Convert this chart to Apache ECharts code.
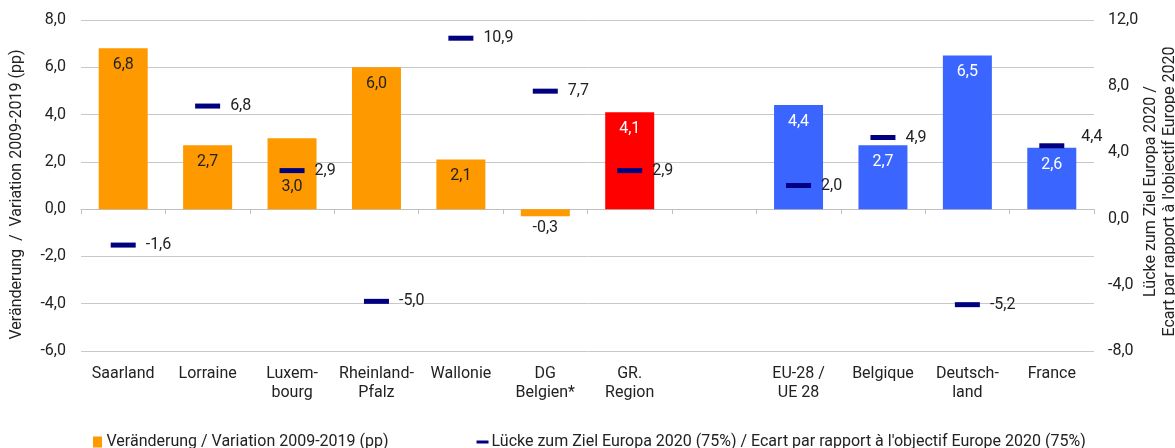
<!DOCTYPE html>
<html>
<head>
<meta charset="utf-8">
<script src="https://cdn.jsdelivr.net/npm/echarts@6/dist/echarts.min.js"></script>
<style>
  html, body { margin: 0; padding: 0; background: #fff; }
  #chartContainer { width: 1175px; height: 448px; }
</style>
</head>
<body>
<div id="chartContainer"></div>
<script>
var CATEGORIES = ["Saarland", "Lorraine", "Luxem-\nbourg", "Rheinland-\nPfalz", "Wallonie", "DG\nBelgien*",
  "GR.\nRegion", "", "EU-28 /\nUE 28", "Belgique", "Deutsch-\nland", "France"];
var VARIATION = [6.8, 2.7, 3.0, 6.0, 2.1, -0.3, 4.1, null, 4.4, 2.7, 6.5, 2.6];
var GAP_TARGET = [-1.6, 6.8, 2.9, -5.0, 10.9, 7.7, 2.9, null, 2.0, 4.9, -5.2, 4.4];
var BAR_GROUP = ["region", "region", "region", "region", "region", "region", "total", "none",
  "country", "country", "country", "country"];

var COLORS = { region: "#FF9900", total: "#FF0000", country: "#3A66FF", none: "#FF9900" };
var LABEL_COLORS = { region: "#222", total: "#fff", country: "#fff", none: "#222" };
var FONT = "Roboto";
var FS = 16;

function comma(v) {
  return v.toFixed(1).replace(".", ",");
}

var CHART;

window.onload = (_) => {
  CHART = echarts.init(document.getElementById("chartContainer"), null, { renderer: "canvas" });

  let barData = VARIATION.map((v, i) => {
    if (v === null) return "-";
    let item = {
      value: v,
      itemStyle: { color: COLORS[BAR_GROUP[i]] },
      label: { color: LABEL_COLORS[BAR_GROUP[i]] },
    };
    if (v < 0) {
      item.label.position = "bottom";
      item.label.distance = 4;
    }
    // Luxembourg label sits below the marker
    if (i == 2) item.label.offset = [0, 32];
    return item;
  });

  let gapData = GAP_TARGET.map((v, i) => {
    if (v === null) return "-";
    let item = { value: v };
    if (i == 11) item.label = { offset: [7, -9] };
    return item;
  });

  let option = {
    animation: false,
    textStyle: { fontFamily: FONT },
    grid: { left: 81, right: 81, top: 20, bottom: 97, containLabel: false, outerBoundsMode: "none" },
    legend: {
      top: 429,
      left: 88,
      itemGap: 88,
      itemWidth: 12,
      itemHeight: 11,
      textStyle: { fontFamily: FONT, fontSize: FS, color: "#222", padding: [0, 0, 0, -2] },
      data: [
        { name: "Veränderung / Variation 2009-2019 (pp)", icon: "path://M0,0h9v11H0z" },
        { name: "Lücke zum Ziel Europa 2020 (75%) / Ecart par rapport à l'objectif Europe 2020 (75%)", icon: "path://M0,0h12v3H0z" },
      ],
    },
    xAxis: [
      {
        type: "category",
        data: CATEGORIES,
        position: "bottom",
        axisLine: { show: false, onZero: false },
        axisTick: { show: false },
        axisLabel: {
          interval: 0,
          margin: 13,
          fontSize: FS,
          lineHeight: 19,
          color: "#222",
          fontFamily: FONT,
        },
      },
      {
        type: "category",
        data: CATEGORIES,
        position: "bottom",
        axisLine: { show: true, onZero: true, onZeroAxisIndex: 0, lineStyle: { color: "#c0c0c0", width: 1 } },
        axisTick: { show: true, interval: 0, length: 5, lineStyle: { color: "#c0c0c0" } },
        axisLabel: { show: false },
      },
    ],
    yAxis: [
      {
        type: "value",
        min: -6,
        max: 8,
        interval: 2,
        name: "Veränderung  /  Variation 2009-2019 (pp)",
        nameLocation: "middle",
        nameGap: 56,
        nameMoveOverlap: false,
        nameTextStyle: { fontSize: FS, color: "#222", fontFamily: FONT, padding: [0, 18, 0, 0] },
        axisLine: { show: false },
        axisTick: { show: false },
        splitLine: { lineStyle: { color: "#c8c8c8", width: 1 } },
        axisLabel: { fontSize: FS, color: "#222", margin: 15, fontFamily: FONT, formatter: comma },
      },
      {
        type: "value",
        min: -8,
        max: 12,
        interval: 4,
        name: "Lücke zum Ziel Europa 2020 /\nEcart par rapport à l'objectif Europe 2020",
        nameLocation: "middle",
        nameGap: 47,
        nameMoveOverlap: false,
        nameTextStyle: { fontSize: FS, color: "#222", lineHeight: 19, fontFamily: FONT, padding: [0, 12, 0, 0] },
        axisLine: { show: false },
        axisTick: { show: false },
        splitLine: { show: false },
        axisLabel: { fontSize: FS, color: "#222", margin: 14, fontFamily: FONT, formatter: comma },
      },
    ],
    series: [
      {
        name: "Veränderung / Variation 2009-2019 (pp)",
        type: "bar",
        xAxisIndex: 0,
        yAxisIndex: 0,
        barWidth: 49,
        itemStyle: { color: COLORS.region },
        label: {
          show: true,
          position: "insideTop",
          distance: 9,
          fontSize: FS,
          fontFamily: FONT,
          formatter: (p) => comma(p.value),
        },
        data: barData,
      },
      {
        name: "Lücke zum Ziel Europa 2020 (75%) / Ecart par rapport à l'objectif Europe 2020 (75%)",
        type: "scatter",
        xAxisIndex: 0,
        yAxisIndex: 1,
        symbol: "rect",
        symbolSize: [25, 5],
        itemStyle: { color: "#000080", opacity: 1 },
        z: 5,
        label: {
          show: true,
          position: "right",
          distance: 10,
          fontSize: FS,
          color: "#222",
          fontFamily: FONT,
          formatter: (p) => comma(p.value),
        },
        data: gapData,
      },
    ],
  };

  CHART.setOption(option);
};
</script>
</body>
</html>
